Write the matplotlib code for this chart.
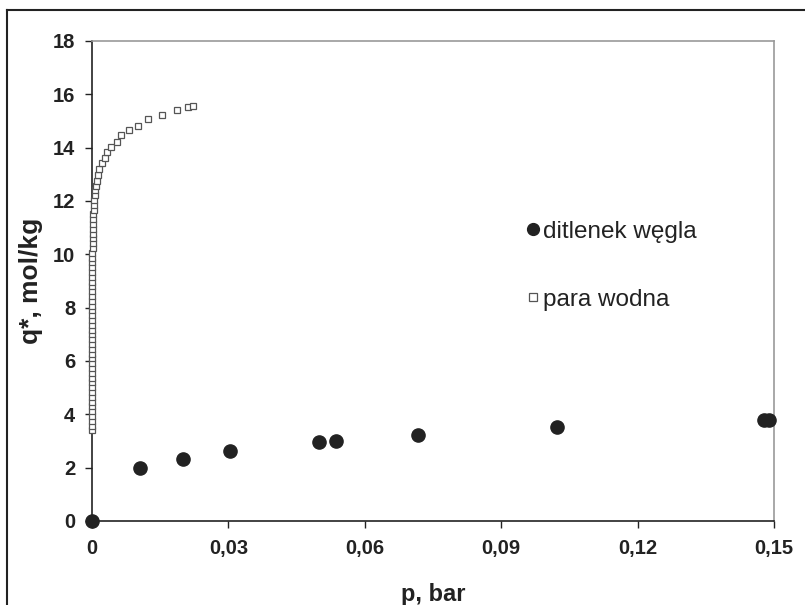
import matplotlib
matplotlib.use("Agg")
import matplotlib.pyplot as plt
from matplotlib.lines import Line2D
from matplotlib.ticker import FuncFormatter

plt.rcParams['font.family'] = ['Liberation Sans', 'DejaVu Sans']

# dane: ditlenek wegla
co2_p = [0.0, 0.0106, 0.0201, 0.0304, 0.0500, 0.0537, 0.0718, 0.1022, 0.1479, 0.1488]
co2_q = [0.0, 1.99, 2.32, 2.61, 2.95, 3.00, 3.22, 3.51, 3.79, 3.79]

# dane: para wodna
h2o_p = [0.00002, 0.00002, 0.00002, 0.00002, 0.00002, 0.00002, 0.00002, 0.00002, 0.00002,
         0.00002, 0.00003, 0.00003, 0.00003, 0.00003, 0.00003, 0.00004, 0.00004, 0.00004,
         0.00004, 0.00004, 0.00005, 0.00005, 0.00005, 0.00005, 0.00005, 0.00006, 0.00006,
         0.00006, 0.00006, 0.00007, 0.00007, 0.00007, 0.00008, 0.00008, 0.00008, 0.00009,
         0.00009, 0.00010, 0.00011, 0.00012, 0.00014, 0.00016, 0.00018, 0.00021, 0.00024,
         0.00028, 0.00033, 0.00040, 0.00048, 0.00058, 0.00070,
         0.00088, 0.00110, 0.00132, 0.00160, 0.00220, 0.00279, 0.00336, 0.00418, 0.00543,
         0.00638, 0.00814, 0.01005, 0.01232, 0.01540, 0.01863, 0.02118, 0.02215]
h2o_q = [3.40, 3.58, 3.76, 3.94, 4.12, 4.30, 4.48, 4.66, 4.84,
         5.02, 5.20, 5.38, 5.56, 5.74, 5.92, 6.10, 6.28, 6.46,
         6.64, 6.82, 7.00, 7.18, 7.36, 7.54, 7.72, 7.90, 8.08,
         8.26, 8.44, 8.62, 8.80, 8.98, 9.16, 9.34, 9.52, 9.70,
         9.88, 10.06, 10.24, 10.42, 10.60, 10.78, 10.96, 11.14, 11.32,
         11.50, 11.68, 11.86, 12.04, 12.22, 12.40,
         12.56, 12.76, 12.99, 13.19, 13.41, 13.61, 13.84, 14.04, 14.23,
         14.46, 14.66, 14.82, 15.08, 15.21, 15.41, 15.51, 15.56]

x_ticks = [0, 0.03, 0.06, 0.09, 0.12, 0.15]
y_ticks = [0, 2, 4, 6, 8, 10, 12, 14, 16, 18]

fig = plt.figure(figsize=(8.05, 6.05), dpi=100)
ax = fig.add_axes([92 / 805, 84 / 605, 682 / 805, 480 / 605])

ax.plot(co2_p, co2_q, 'o', color='#222222', markersize=9.5, clip_on=False,
        zorder=4, label='ditlenek węgla')
ax.plot(h2o_p, h2o_q, 's', markerfacecolor='white', markeredgecolor='#555555',
        markeredgewidth=0.9, markersize=4.5, clip_on=False, zorder=3,
        label='para wodna')

ax.set_xlim(0, 0.15)
ax.set_ylim(0, 18)
ax.set_xticks(x_ticks)
ax.set_yticks(y_ticks)
ax.xaxis.set_major_formatter(FuncFormatter(lambda v, pos: ('%g' % v).replace('.', ',')))

for side in ['left', 'bottom']:
    ax.spines[side].set_color('#222222')
    ax.spines[side].set_linewidth(1.2)
for side in ['top', 'right']:
    ax.spines[side].set_color('#999999')
    ax.spines[side].set_linewidth(1.2)

ax.tick_params(axis='both', direction='out', length=5, width=1.0, color='#222222',
               labelsize=14.5, labelcolor='#222222')
ax.tick_params(axis='x', pad=8)
ax.tick_params(axis='y', pad=7)
for lab in ax.get_xticklabels() + ax.get_yticklabels():
    lab.set_fontweight('bold')

ax.set_xlabel('p, bar', fontsize=17, fontweight='bold', color='#222222', labelpad=18)
ax.set_ylabel('q*, mol/kg', fontsize=19, fontweight='bold', color='#222222', labelpad=7)

leg = ax.legend(loc='upper left', bbox_to_anchor=(516 / 805, 1 - 211 / 605),
                bbox_transform=fig.transFigure, frameon=False, fontsize=17.5,
                handlelength=0.6, handletextpad=0.1, labelspacing=1.9,
                numpoints=1, borderaxespad=0)
for t in leg.get_texts():
    t.set_color('#222222')
leg.legend_handles[0].set_markersize(8.5)
leg.legend_handles[1].set_markersize(5.5)

# zewnetrzna ramka wykresu
fig.add_artist(Line2D([7 / 805, 1], [1 - 10 / 605, 1 - 10 / 605], color='#222222',
                      linewidth=1.5, transform=fig.transFigure))
fig.add_artist(Line2D([7 / 805, 7 / 805], [0, 1 - 10 / 605], color='#222222',
                      linewidth=1.5, transform=fig.transFigure))

fig.savefig('out.png', dpi=100)
